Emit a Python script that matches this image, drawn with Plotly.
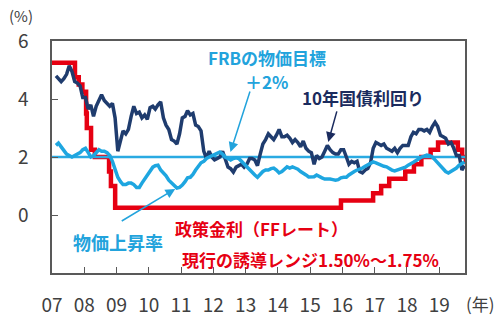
import plotly.graph_objects as go
import pandas as pd

# ---- data ----
months = pd.date_range("2007-01-15", "2019-10-15", freq="MS") + pd.Timedelta(days=14)
months = [d.strftime("%Y-%m-%d") for d in months]

yield10 = [
    4.80, 4.70, 4.60, 4.70, 4.85, 5.15, 4.95, 4.60, 4.55, 4.45, 4.05, 4.05,
    3.65, 3.80, 3.40, 3.75, 3.95, 4.15, 3.95, 3.85, 3.75, 3.85, 3.35, 2.20,
    2.55, 2.90, 2.80, 2.95, 3.40, 3.75, 3.50, 3.55, 3.35, 3.45, 3.30, 3.70,
    3.75, 3.65, 3.80, 3.90, 3.35, 3.10, 2.95, 2.60, 2.55, 2.45, 2.80, 3.35,
    3.40, 3.60, 3.45, 3.50, 3.10, 3.05, 2.90, 2.20, 1.95, 2.20, 2.00, 1.90,
    1.95, 2.00, 2.20, 1.95, 1.65, 1.60, 1.48, 1.65, 1.70, 1.75, 1.65, 1.75,
    1.95, 1.95, 1.90, 1.70, 2.10, 2.45, 2.60, 2.80, 2.70, 2.60, 2.75, 2.95,
    2.70, 2.70, 2.75, 2.65, 2.50, 2.60, 2.50, 2.35, 2.55, 2.30, 2.20, 2.15,
    1.75, 2.05, 1.95, 2.00, 2.20, 2.40, 2.25, 2.15, 2.10, 2.10, 2.25, 2.25,
    2.00, 1.75, 1.85, 1.80, 1.85, 1.50, 1.45, 1.55, 1.60, 1.80, 2.30, 2.50,
    2.45, 2.40, 2.45, 2.30, 2.25, 2.20, 2.30, 2.15, 2.30, 2.40, 2.40, 2.40,
    2.70, 2.85, 2.80, 2.95, 2.95, 2.90, 2.95, 2.85, 3.05, 3.20, 3.05, 2.75,
    2.70, 2.65, 2.45, 2.50, 2.30, 2.05, 2.05, 1.55, 1.70, 1.75,
]

inflation = [
    2.40, 2.48, 2.35, 2.20, 2.10, 2.05, 2.00, 2.05, 2.10, 2.15, 2.25, 2.30,
    2.15, 2.00, 2.05, 2.15, 2.25, 2.20, 2.20, 2.15, 2.05, 1.85, 1.55, 1.30,
    1.15, 1.05, 1.05, 1.10, 1.10, 1.05, 0.95, 0.95, 1.10, 1.25, 1.40, 1.55,
    1.65, 1.70, 1.72, 1.55, 1.45, 1.35, 1.20, 1.10, 1.00, 0.93, 0.95, 1.03,
    1.15, 1.28, 1.30, 1.40, 1.55, 1.70, 1.80, 1.85, 1.95, 2.00, 2.05, 2.10,
    2.15, 2.17, 2.10, 2.00, 1.95, 1.90, 1.95, 1.97, 1.95, 1.85, 1.75, 1.65,
    1.55, 1.45, 1.38, 1.30, 1.40, 1.50, 1.55, 1.55, 1.60, 1.62, 1.55, 1.45,
    1.50, 1.58, 1.66, 1.62, 1.66, 1.62, 1.58, 1.50, 1.45, 1.38, 1.31, 1.30,
    1.32, 1.38, 1.32, 1.28, 1.24, 1.25, 1.24, 1.22, 1.20, 1.22, 1.28, 1.30,
    1.30, 1.38, 1.45, 1.50, 1.55, 1.58, 1.62, 1.68, 1.72, 1.78, 1.83, 1.80,
    1.75, 1.72, 1.68, 1.66, 1.60, 1.55, 1.52, 1.55, 1.58, 1.62, 1.65, 1.72,
    1.79, 1.82, 1.88, 1.95, 2.00, 2.03, 2.07, 2.05, 2.00, 1.90, 1.80, 1.70,
    1.62, 1.50, 1.45, 1.50, 1.55, 1.62, 1.72, 1.78, 1.83, 1.80,
]

ff_dates = ["2007-01-01", "2007-09-18", "2007-10-31", "2007-12-11", "2008-01-22",
            "2008-01-30", "2008-03-18", "2008-04-30", "2008-10-08", "2008-10-29",
            "2008-12-16", "2015-12-16", "2016-12-14", "2017-03-15", "2017-06-14",
            "2017-12-13", "2018-03-21", "2018-06-13", "2018-09-26", "2018-12-19",
            "2019-07-31", "2019-09-18", "2019-10-30"]
ff_rate = [5.25, 4.75, 4.50, 4.25, 3.50, 3.00, 2.25, 2.00, 1.50, 1.00,
           0.25, 0.50, 0.75, 1.00, 1.25, 1.50, 1.75, 2.00, 2.25, 2.50,
           2.25, 2.00, 1.75]

target_dates = ["2007-01-01", "2019-10-31"]
target = [2, 2]

year_ticks = [f"{y}-01-01" for y in range(2007, 2020)]
year_labels = [f"{y % 100:02d}" for y in range(2007, 2020)]

RED = "#E60012"
NAVY = "#1F3C6E"
SKY = "#1EA6E0"
SKY_T = "#22A3DC"
GRAY = "#404040"
FONT = "Noto Sans CJK JP"

fig = go.Figure()
fig.add_trace(go.Scatter(x=ff_dates, y=ff_rate, mode="lines", line=dict(color=RED, width=4.5, shape="hv")))
fig.add_trace(go.Scatter(x=target_dates, y=target, mode="lines", line=dict(color="#2AAAE2", width=2.5)))
fig.add_trace(go.Scatter(x=months, y=yield10, mode="lines", line=dict(color=NAVY, width=3.5)))
fig.add_trace(go.Scatter(x=months, y=inflation, mode="lines", line=dict(color=SKY, width=3.5)))

fig.update_layout(
    width=500, height=331,
    margin=dict(l=52, r=35, t=41, b=58),
    paper_bgcolor="white", plot_bgcolor="white",
    showlegend=False,
    font=dict(family=FONT, color=GRAY),
)
fig.update_xaxes(
    range=["2007-01-01", "2019-10-20"],
    tickvals=year_ticks, ticktext=year_labels,
    ticks="inside", ticklen=6, tickcolor="#595959",
    showline=True, linecolor="#595959", linewidth=1.5, mirror=True,
    showgrid=False, zeroline=False,
    tickfont=dict(size=19, color=GRAY, family=FONT),
    ticklabelstandoff=14,
)
fig.update_yaxes(
    range=[-2, 6], tickvals=[0, 2, 4, 6],
    ticks="inside", ticklen=6, tickcolor="#595959",
    showline=True, linecolor="#595959", linewidth=1.5, mirror=True,
    showgrid=False, zeroline=False,
    tickfont=dict(size=19, color=GRAY, family=FONT),
    ticklabelstandoff=18,
)

def px2paper(px, py):
    return (px - 52) / 413, (273 - py) / 232

def label(text, px, py, color, size=17, anchor="center"):
    x, y = px2paper(px, py)
    fig.add_annotation(text=f"<b>{text}</b>", x=x, y=y, xref="paper", yref="paper",
                       xanchor=anchor, yanchor="middle", showarrow=False,
                       font=dict(family=FONT, size=size, color=color))

label("FRBの物価目標", 267, 57, SKY_T)
label("＋2%", 266, 81, SKY_T)
label("10年国債利回り", 363, 97, "#1B2B5E")
label("物価上昇率", 118, 242, SKY_T, size=18)
label("政策金利（FFレート）", 173, 228, RED, anchor="left")
label("現行の誘導レンジ1.50%～1.75%", 180, 259, RED, anchor="left")

def arrow(xd, yd, ax, ay, color):
    fig.add_annotation(x=xd, y=yd, xref="x", yref="y", ax=ax, ay=ay, text="",
                       showarrow=True, arrowhead=2, arrowsize=1.3, arrowwidth=1.5,
                       arrowcolor=color)

arrow("2012-07-13", 2.17, 20, -62, SKY_T)
arrow("2015-07-25", 2.52, 9, -32, "#1B2B5E")
arrow("2010-10-27", 0.90, -55, 33, SKY_T)

x0, y0 = px2paper(21, 15)
fig.add_annotation(text="(%)", x=x0, y=y0, xref="paper", yref="paper",
                   xanchor="center", yanchor="middle", showarrow=False,
                   font=dict(size=15, color=GRAY, family=FONT))
x1, y1 = px2paper(480, 303)
fig.add_annotation(text="(年)", x=x1, y=y1, xref="paper", yref="paper",
                   xanchor="center", yanchor="middle", showarrow=False,
                   font=dict(size=17, color=GRAY, family=FONT))

fig.write_html("out.html")
